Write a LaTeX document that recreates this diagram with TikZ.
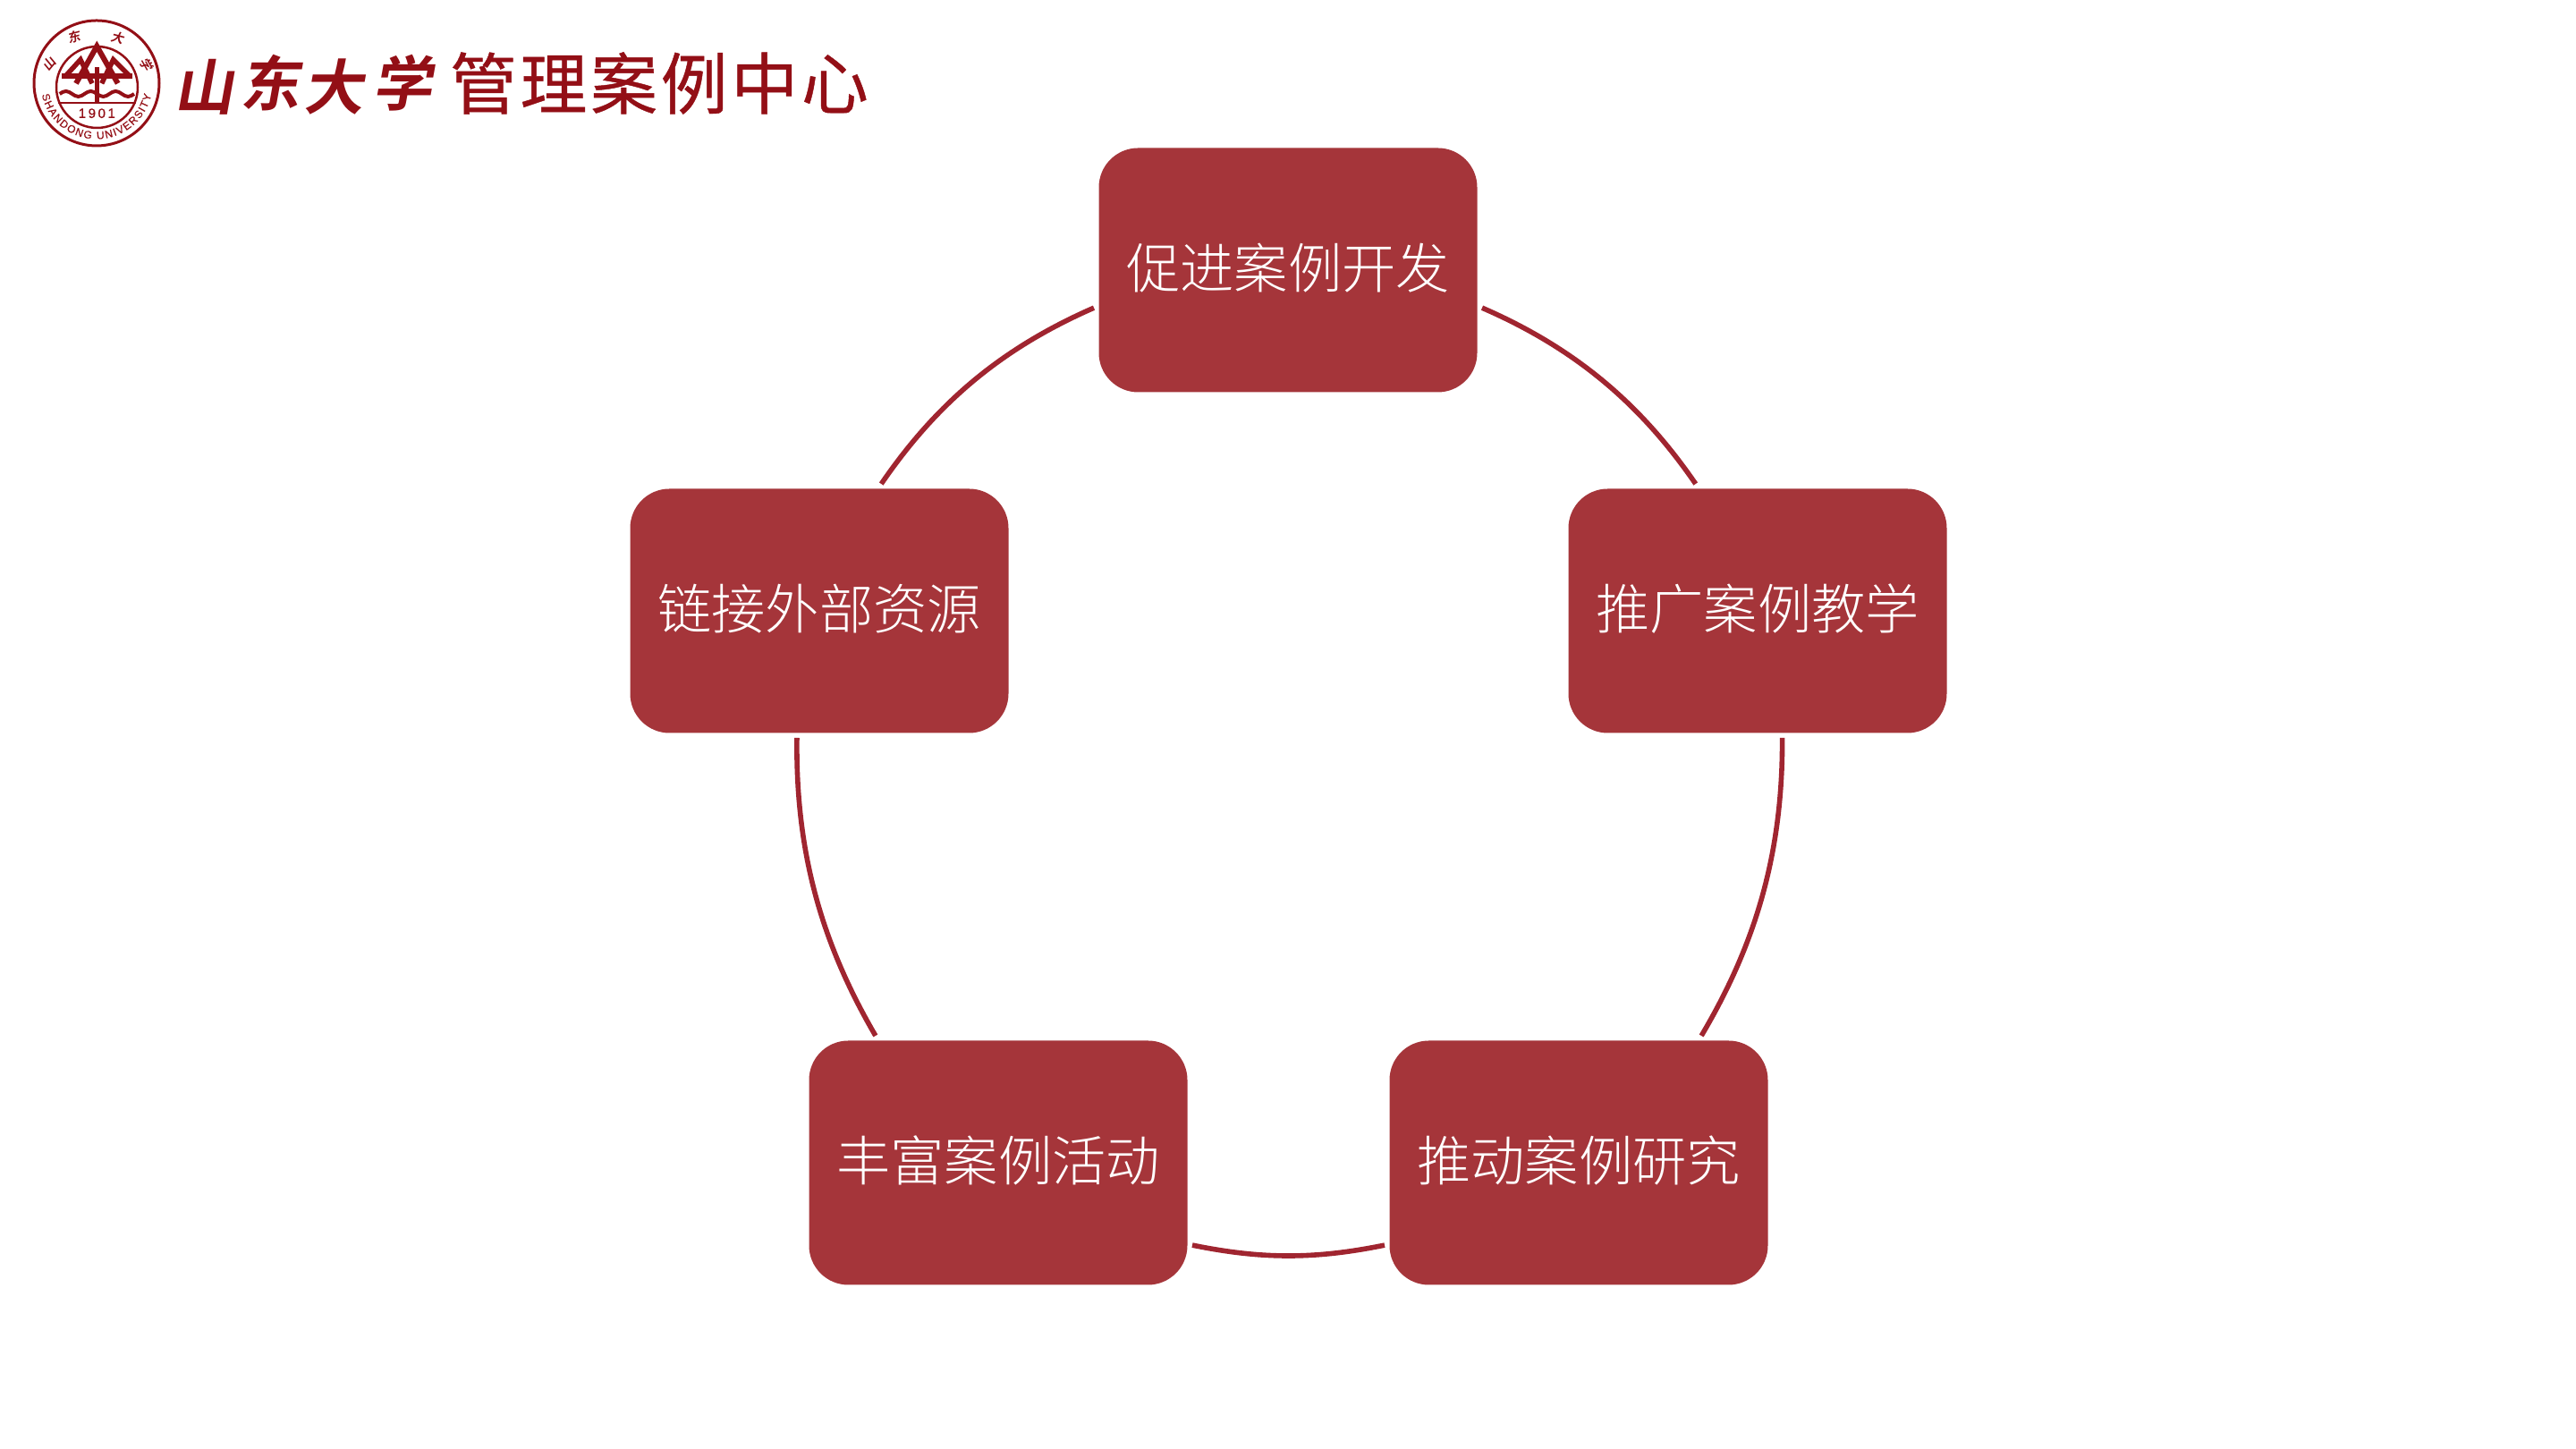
\documentclass[tikz,border=0pt]{standalone}
\usepackage{fontspec}
\usetikzlibrary{decorations.text}
\setmainfont{Liberation Sans}
\newfontfamily\cjkbox{Noto Sans CJK SC Light}
\newfontfamily\cjkhead[LetterSpace=5,FakeBold=0.6]{Noto Sans CJK SC}
\newfontfamily\cjkbrush[FakeSlant=0.18]{Noto Sans CJK SC Bold}
\newfontfamily\sealfont[FakeBold=0.4]{Liberation Sans}
\definecolor{boxred}{HTML}{A5353A}
\definecolor{arcred}{HTML}{A02530}
\definecolor{logored}{HTML}{930F16}

\begin{document}
\begin{tikzpicture}
        [boxstyle/.style={rectangle, rounded corners=0.44cm, fill=boxred, text=white, inner sep=0em, outer sep=0.055cm, minimum width=4.23cm, minimum height=2.73cm, text depth=0.09cm, font=\cjkbox\fontsize{17.15}{20}\selectfont},
        arcstyle/.style={arcred, line width=0.056cm},
        sealstyle/.style={logored, line width=0.03cm},
        sealtext/.style={logored, inner sep=0em, font=\cjkbrush\fontsize{4}{5}\selectfont},
        brushstyle/.style={logored, inner sep=0em, font=\cjkbrush\fontsize{19}{22}\selectfont}]

        \useasboundingbox (0,0) rectangle (28.8,16.2);

        \node[boxstyle] (develop)  at (14.40,13.18) {促进案例开发};
        \node[boxstyle] (teach)    at (19.65,9.37)  {推广案例教学};
        \node[boxstyle] (research) at (17.65,3.20)  {推动案例研究};
        \node[boxstyle] (activity) at (11.16,3.20)  {丰富案例活动};
        \node[boxstyle] (resource) at (9.16,9.37)   {链接外部资源};

        \draw[arcstyle] (develop.-11.3) to[bend left=16, looseness=0.92] (teach.116.3);
        \draw[arcstyle] (teach.-79.7) to[bend left=15.5, looseness=0.92] (research.46.1);
        \draw[arcstyle] (research.203.6) to[bend left=11.5, looseness=0.95] (activity.-23.6);
        \draw[arcstyle] (activity.134) to[bend left=15.5, looseness=0.92] (resource.-100.7);
        \draw[arcstyle] (resource.64) to[bend left=16, looseness=0.92] (develop.191.3);

        \draw[sealstyle] (1.08,15.27) circle (0.70);
        \draw[sealstyle, line width=0.025cm] (1.085,15.225) circle (0.455);
        \draw[logored, line width=0.055cm] (0.693,15.35) -- (1.483,15.35);
        \draw[logored, line width=0.05cm] (1.083,15.45) -- (1.083,15.06);
        \draw[logored, line width=0.06cm, line join=miter] (0.85,15.267) -- (1.083,15.683) -- (1.317,15.267);
        \draw[logored, line width=0.055cm] (0.733,15.35) -- (0.90,15.533) -- (1.03,15.267);
        \draw[logored, line width=0.055cm] (1.45,15.35) -- (1.267,15.533) -- (1.137,15.267);
        \draw[logored, line width=0.04cm] (0.667,15.15) sin (0.737,15.18) cos (0.806,15.15) sin (0.876,15.12) cos (0.945,15.15) sin (1.015,15.18) cos (1.084,15.15) sin (1.154,15.12) cos (1.223,15.15) sin (1.293,15.18) cos (1.362,15.15) sin (1.432,15.12) cos (1.50,15.15);
        \draw[sealstyle, line width=0.015cm] (0.65,15.05) -- (1.517,15.05);
        \node[logored, inner sep=0em, font=\sealfont\fontsize{4.3}{5}\selectfont] (sealyear) at (1.083,14.933) {1\,9\,0\,1};
        \path[decorate, decoration={text along path, text align=fit to path, text={|\sealfont\color{logored}\fontsize{3.4}{5}\selectfont|SHANDONG UNIVERSITY}}]
            (1.08,15.27) ++(192:0.625) arc (192:348:0.625);
        \node[sealtext, rotate=50]  (sealshan) at (0.55,15.483)  {山};
        \node[sealtext, rotate=15]  (sealdong) at (0.833,15.783) {东};
        \node[sealtext, rotate=-15] (sealda)   at (1.317,15.783) {大};
        \node[sealtext, rotate=-60] (sealxue)  at (1.633,15.483) {学};

        \node[brushstyle] (brushshan) at (2.28,15.23) {山};
        \node[brushstyle] (brushdong) at (3.02,15.27) {东};
        \node[brushstyle] (brushda)   at (3.73,15.23) {大};
        \node[brushstyle] (brushxue)  at (4.50,15.27) {学};
        \node[logored, inner sep=0em, font=\cjkhead\fontsize{21.3}{24}\selectfont] (centertitle) at (7.37,15.27) {管理案例中心};
    \end{tikzpicture}
\end{document}
